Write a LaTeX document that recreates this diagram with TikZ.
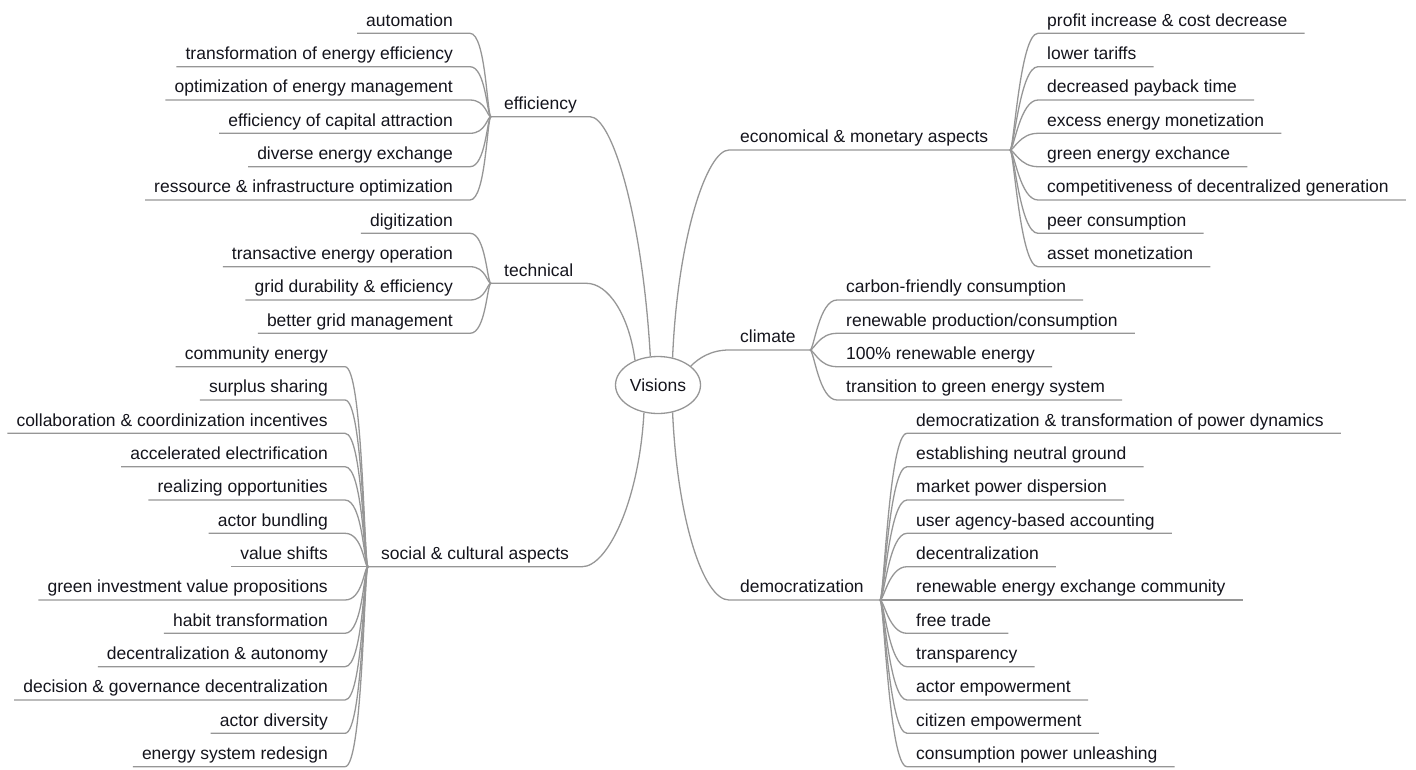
\documentclass[tikz,border=0pt]{standalone}
\usepackage{fontspec}
\setmainfont{Liberation Sans}
\usetikzlibrary{shapes.geometric}
\definecolor{linegray}{RGB}{150,150,150}
\definecolor{textdark}{RGB}{20,20,28}
\tikzset{%
  % Specifications for style of nodes:
        base/.style = {text=textdark, font=\fontsize{17.5}{20}\selectfont},
       label/.style = {base, inner ysep=3pt, text height=13pt, text depth=4pt},
       topic/.style = {label, inner xsep=13pt},
       leafL/.style = {label, inner xsep=9pt, anchor=south east},
       leafR/.style = {label, inner xsep=9pt, anchor=south west},
    rootnode/.style = {base, ellipse, draw=linegray, line width=1.3pt,
                       minimum width=85pt, minimum height=57pt, inner sep=0pt},
        link/.style = {draw=linegray, line width=1.3pt},
}
\begin{document}
\begin{tikzpicture}[x=1pt, y=-1pt]
  \useasboundingbox (0,0) rectangle (1416,769);
  % Specification of nodes (position, etc.)
  \node[rootnode] (root) at (658,385) {Visions};

  % efficiency
  \coordinate (effB) at (491,116.7);
  \node[topic, anchor=south west] (eff) at (effB) {efficiency};
  \node[leafL] (eff1) at (462,33.3)  {automation};
  \node[leafL] (eff2) at (462,66.7)  {transformation of energy efficiency};
  \node[leafL] (eff3) at (462,100)   {optimization of energy management};
  \node[leafL] (eff4) at (462,133.3) {efficiency of capital attraction};
  \node[leafL] (eff5) at (462,166.7) {diverse energy exchange};
  \node[leafL] (eff6) at (462,200)   {ressource \& infrastructure optimization};

  % technical
  \coordinate (tecB) at (491,283.3);
  \node[topic, anchor=south west] (tec) at (tecB) {technical};
  \node[leafL] (tec1) at (462,233.3) {digitization};
  \node[leafL] (tec2) at (462,266.7) {transactive energy operation};
  \node[leafL] (tec3) at (462,300)   {grid durability \& efficiency};
  \node[leafL] (tec4) at (462,333.3) {better grid management};

  % social & cultural aspects
  \coordinate (socB) at (368,566.7);
  \node[topic, anchor=south west] (soc) at (socB) {social \& cultural aspects};
  \node[leafL] (soc1)  at (337,366.7) {community energy};
  \node[leafL] (soc2)  at (337,400)   {surplus sharing};
  \node[leafL] (soc3)  at (337,433.3) {collaboration \& coordinization incentives};
  \node[leafL] (soc4)  at (337,466.7) {accelerated electrification};
  \node[leafL] (soc5)  at (337,500)   {realizing opportunities};
  \node[leafL] (soc6)  at (337,533.3) {actor bundling};
  \node[leafL] (soc7)  at (337,566.7) {value shifts};
  \node[leafL] (soc8)  at (337,600)   {green investment value propositions};
  \node[leafL] (soc9)  at (337,633.3) {habit transformation};
  \node[leafL] (soc10) at (337,666.7) {decentralization \& autonomy};
  \node[leafL] (soc11) at (337,700)   {decision \& governance decentralization};
  \node[leafL] (soc12) at (337,733.3) {actor diversity};
  \node[leafL] (soc13) at (337,766.7) {energy system redesign};

  % economical & monetary aspects
  \node[topic, anchor=south west, inner xsep=11pt] (eco) at (729,150) {economical \& monetary aspects};
  \coordinate (ecoB) at (1010,150);
  \node[leafR] (eco1) at (1038,33.3)  {profit increase \& cost decrease};
  \node[leafR] (eco2) at (1038,66.7)  {lower tariffs};
  \node[leafR] (eco3) at (1038,100)   {decreased payback time};
  \node[leafR] (eco4) at (1038,133.3) {excess energy monetization};
  \node[leafR] (eco5) at (1038,166.7) {green energy exchance};
  \node[leafR] (eco6) at (1038,200)   {competitiveness of decentralized generation};
  \node[leafR] (eco7) at (1038,233.3) {peer consumption};
  \node[leafR] (eco8) at (1038,266.7) {asset monetization};

  % climate
  \node[topic, anchor=south west, inner xsep=11pt] (cli) at (729,350) {climate};
  \coordinate (cliB) at (810,350);
  \node[leafR] (cli1) at (837,300)   {carbon-friendly consumption};
  \node[leafR] (cli2) at (837,333.3) {renewable production/consumption};
  \node[leafR] (cli3) at (837,366.7) {100\% renewable energy};
  \node[leafR] (cli4) at (837,400)   {transition to green energy system};

  % democratization
  \node[topic, anchor=south west, inner xsep=11pt] (dem) at (729,600) {democratization};
  \coordinate (demB) at (880,600);
  \node[leafR] (dem1)  at (907,433.3) {democratization \& transformation of power dynamics};
  \node[leafR] (dem2)  at (907,466.7) {establishing neutral ground};
  \node[leafR] (dem3)  at (907,500)   {market power dispersion};
  \node[leafR] (dem4)  at (907,533.3) {user agency-based accounting};
  \node[leafR] (dem5)  at (907,566.7) {decentralization};
  \node[leafR] (dem6)  at (907,600)   {renewable energy exchange community};
  \node[leafR] (dem7)  at (907,633.3) {free trade};
  \node[leafR] (dem8)  at (907,666.7) {transparency};
  \node[leafR] (dem9)  at (907,700)   {actor empowerment};
  \node[leafR] (dem10) at (907,733.3) {citizen empowerment};
  \node[leafR] (dem11) at (907,766.7) {consumption power unleashing};

  % Specification of lines between nodes specified above
  \draw[link] (effB) -- (eff.south east) .. controls +(22,0) and +(-8,-140) .. (root.105);
  \draw[link] (tecB) -- (tec.south east) .. controls +(22,0) and +(-6,-45) .. (root.133);
  \draw[link] (socB) -- (soc.south east) .. controls +(25,0) and +(-5,90) .. (root.243);
  \draw[link] (ecoB) -- (eco.south west) .. controls +(-22,0) and +(5,-120) .. (root.62);
  \draw[link] (cliB) -- (cli.south west) .. controls +(-18,0) and +(8,-8) .. (root.30);
  \draw[link] (demB) -- (dem.south west) .. controls +(-25,0) and +(5,110) .. (root.298);

  % underlined leaves, bent into their branch
  \foreach \i in {1,...,6}
    \draw[link] (eff\i.south west) -- ([xshift=8pt]eff\i.south east)
      .. controls +(16,0) and +(-4,0) .. (effB);
  \foreach \i in {1,...,4}
    \draw[link] (tec\i.south west) -- ([xshift=8pt]tec\i.south east)
      .. controls +(16,0) and +(-4,0) .. (tecB);
  \foreach \i in {1,...,13}
    \draw[link] (soc\i.south west) -- ([xshift=8pt]soc\i.south east)
      .. controls +(18,0) and +(-4,0) .. (socB);
  \foreach \i in {1,...,8}
    \draw[link] (ecoB) .. controls +(4,0) and +(-18,0) .. (eco\i.south west)
      -- ([xshift=8pt]eco\i.south east);
  \foreach \i in {1,...,4}
    \draw[link] (cliB) .. controls +(4,0) and +(-18,0) .. (cli\i.south west)
      -- ([xshift=8pt]cli\i.south east);
  \foreach \i in {1,...,11}
    \draw[link] (demB) .. controls +(4,0) and +(-18,0) .. (dem\i.south west)
      -- ([xshift=8pt]dem\i.south east);
\end{tikzpicture}
\end{document}
